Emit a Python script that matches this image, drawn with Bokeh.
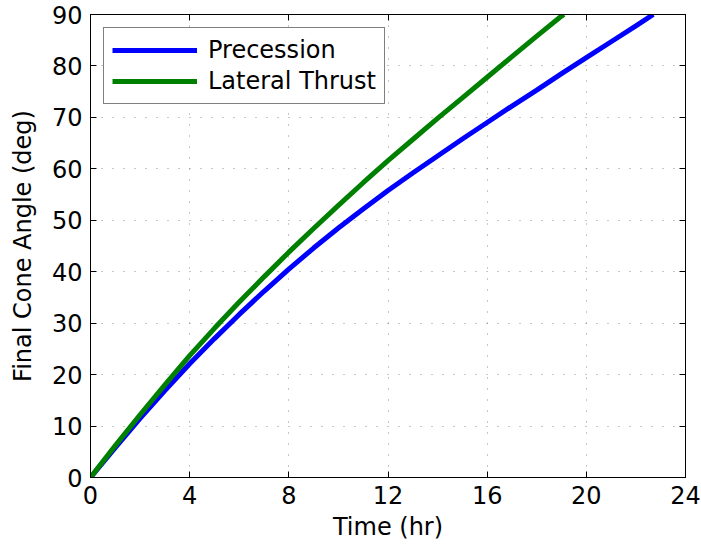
from bokeh.plotting import figure
from bokeh.models import Legend, LegendItem, LinearAxis, FixedTicker, Range1d, CustomJSTickFormatter
from bokeh.embed import file_html
from bokeh.resources import INLINE

# ---- data ----
time_precession = [0, 1, 2, 3, 4, 5, 6, 7, 8, 9, 10, 11, 12, 13, 14, 15, 16, 17, 18, 19, 20, 21, 22, 22.7]
angle_precession = [0, 5.8, 11.5, 16.9, 22.1, 27.0, 31.7, 36.2, 40.5, 44.6, 48.5, 52.2, 55.8, 59.2,
                    62.5, 65.8, 69.0, 72.2, 75.3, 78.5, 81.6, 84.7, 87.8, 90.0]

time_lateral = [0, 1, 2, 3, 4, 5, 6, 7, 8, 9, 10, 11, 12, 13, 14, 15, 16, 17, 18, 19, 19.1]
angle_lateral = [0, 6.2, 12.2, 18.0, 23.7, 29.0, 34.1, 39.0, 43.8, 48.4, 52.9, 57.3, 61.6, 65.7,
                 69.8, 73.8, 77.8, 81.8, 85.8, 89.7, 90.0]

x_ticks = [0, 4, 8, 12, 16, 20, 24]
y_ticks = [0, 10, 20, 30, 40, 50, 60, 70, 80, 90]
series_names = ["Precession", "Lateral Thrust"]
series_colors = ["#0000FF", "#008000"]

FONT = "DejaVu Sans"
FS = "24px"

p = figure(width=701, height=549, output_backend="svg", toolbar_location=None,
           x_range=Range1d(0, 24), y_range=Range1d(0, 90),
           min_border_left=90, min_border_right=16, min_border_top=14, min_border_bottom=72)

p.background_fill_color = "white"
p.border_fill_color = "white"
p.outline_line_color = "black"
p.outline_line_width = 1

bottom_axis = p.xaxis[0]
left_axis = p.yaxis[0]

# extra box axes (ticks only)
top_axis = LinearAxis(formatter=CustomJSTickFormatter(code="return ''"))
right_axis = LinearAxis(formatter=CustomJSTickFormatter(code="return ''"))

for ax in [bottom_axis, top_axis]:
    ax.ticker = FixedTicker(ticks=x_ticks)
for ax in [left_axis, right_axis]:
    ax.ticker = FixedTicker(ticks=y_ticks)

for ax in [bottom_axis, left_axis, top_axis, right_axis]:
    ax.axis_line_color = "black"
    ax.axis_line_width = 1
    ax.major_tick_line_color = "black"
    ax.major_tick_in = 6
    ax.major_tick_out = 0
    ax.minor_tick_line_color = None
    ax.major_label_text_font = FONT
    ax.major_label_text_font_size = FS
    ax.major_label_text_color = "black"
    ax.axis_label_text_font = FONT
    ax.axis_label_text_font_size = FS
    ax.axis_label_text_font_style = "normal"
    ax.axis_label_text_color = "black"

for ax in [top_axis, right_axis]:
    ax.major_label_standoff = 0

bottom_axis.axis_label = "Time (hr)"
left_axis.axis_label = "Final Cone Angle (deg)"
bottom_axis.major_label_standoff = 8
left_axis.major_label_standoff = 8
bottom_axis.axis_label_standoff = 6
left_axis.axis_label_standoff = 12

p.add_layout(top_axis, "above")
p.add_layout(right_axis, "right")

p.xgrid.ticker = FixedTicker(ticks=x_ticks)
p.ygrid.ticker = FixedTicker(ticks=y_ticks)
for g in [p.xgrid[0], p.ygrid[0]]:
    g.grid_line_color = "#909090"
    g.grid_line_width = 1
    g.grid_line_dash = "1 10"

r1 = p.line(time_precession, angle_precession, line_color=series_colors[0], line_width=5)
r2 = p.line(time_lateral, angle_lateral, line_color=series_colors[1], line_width=5)

legend = Legend(items=[LegendItem(label=series_names[0], renderers=[r1]),
                       LegendItem(label=series_names[1], renderers=[r2])],
                location="top_left")
legend.margin = 13
legend.padding = 8
legend.spacing = 3
legend.glyph_width = 85
legend.glyph_height = 26
legend.label_height = 26
legend.label_standoff = 11
legend.label_text_font = FONT
legend.label_text_font_size = FS
legend.label_text_color = "black"
legend.border_line_color = "black"
legend.border_line_width = 1
legend.background_fill_color = "white"
legend.background_fill_alpha = 1.0
p.add_layout(legend)

open("out.html", "w").write(file_html(p, INLINE))
